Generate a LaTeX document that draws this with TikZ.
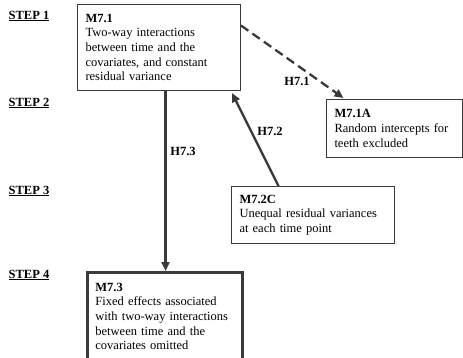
\documentclass[tikz,border=0pt]{standalone}
\usepackage{fontspec}
\setmainfont{Liberation Serif}
\usetikzlibrary{arrows.meta}
\definecolor{linegray}{HTML}{3A3A3A}

\begin{document}
\begin{tikzpicture}[x=1pt, y=-1pt,
    every node/.style={font=\fontsize{12.5}{14.6}\selectfont},
    box/.style={draw=linegray, line width=1pt, anchor=north west, align=left,
                inner xsep=8pt, inner ysep=0pt},
    steplabel/.style={font=\fontsize{12.5}{14.6}\selectfont\bfseries},
    hyp/.style={font=\fontsize{12.5}{14.6}\selectfont\bfseries},
    arr/.style={draw=linegray, line width=2.3pt, -{Triangle[length=9pt,width=8pt]}}]
                    \useasboundingbox (0,0) rectangle (463,357);
                    \node [steplabel] (s1) at (29,16) {\underline{STEP 1}};
                    \node [steplabel] (s2) at (29,103) {\underline{STEP 2}};
                    \node [steplabel] (s3) at (29,191) {\underline{STEP 3}};
                    \node [steplabel] (s4) at (29,275) {\underline{STEP 4}};
                    \node [box, text width=147pt, minimum height=86pt] (m71) at (77,4)
                        {\textbf{M7.1}\\Two-way interactions\\between time and the\\covariates, and constant\\residual variance};
                    \node [box, text width=120pt, minimum height=58pt] (m71a) at (326,99)
                        {\textbf{M7.1A}\\Random intercepts for\\teeth excluded};
                    \node [box, text width=147pt, minimum height=57pt] (m72c) at (231,186)
                        {\textbf{M7.2C}\\Unequal residual variances\\at each time point};
                    \node [box, line width=2.8pt, text width=139pt, minimum height=88pt] (m73) at (86,271)
                        {\textbf{M7.3}\\Fixed effects associated\\with two-way interactions\\between time and the\\covariates omitted};
                    \draw [arr] ([xshift=6.5pt]m71.south) -- ([xshift=6.5pt]m71.south |- m73.north);
                    \draw [arr] ([xshift=-34.5pt]m72c.north) -- ([xshift=-9pt,yshift=-2pt]m71.south east);
                    \draw [arr, dash pattern=on 9pt off 5pt] ([yshift=22pt]m71.east) -- ([xshift=-51pt,yshift=1pt]m71a.north);
                    \node [hyp] (h73) at (183,151) {H7.3};
                    \node [hyp] (h72) at (270,131) {H7.2};
                    \node [hyp] (h71) at (297,81) {H7.1};
                \end{tikzpicture}
\end{document}
